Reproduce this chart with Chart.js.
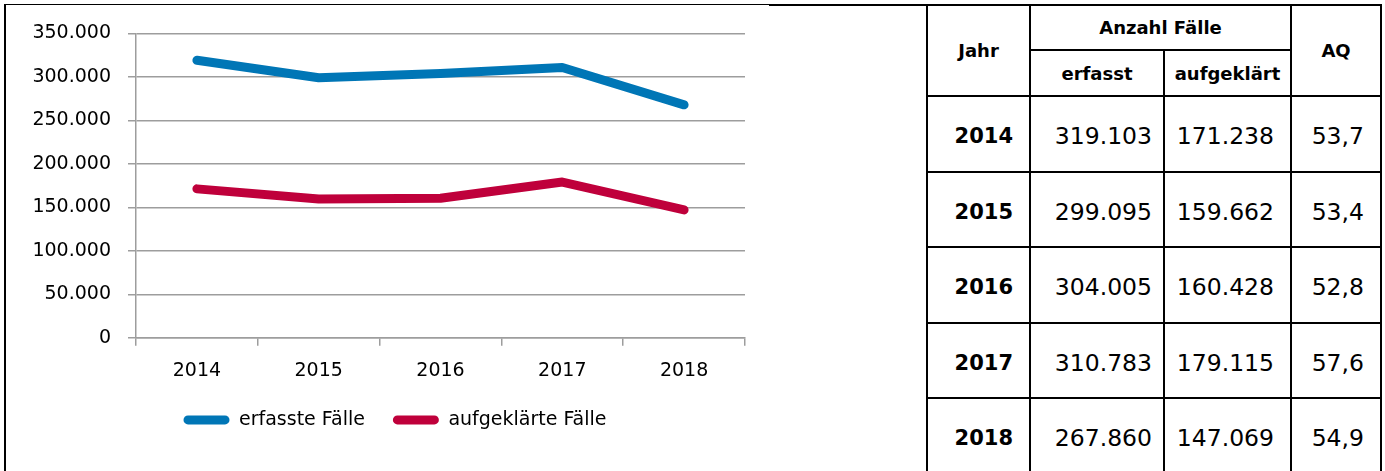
<!DOCTYPE html>
<html>
<head>
<meta charset="utf-8">
<script src="https://cdn.jsdelivr.net/npm/chart.js@4.4.1/dist/chart.umd.min.js"></script>
<style>
html,body{margin:0;padding:0;background:#fff;width:1385px;height:471px;overflow:hidden;font-family:"DejaVu Sans",sans-serif;color:#000;}
#frameTop{position:absolute;left:4px;top:4px;width:765px;height:1px;background:#000;}
#frameLeft{position:absolute;left:4px;top:4px;width:2px;height:480px;background:#000;}
#joinLine{position:absolute;left:769px;top:4px;width:160px;height:2px;background:#000;}
#wrap{position:absolute;left:6px;top:5px;width:778px;height:466px;}
#tbl{position:absolute;left:926px;top:4px;display:grid;background:#000;padding:2px 2px 0 2px;gap:2px;
  grid-template-columns:101px 132px 125px 88px;
  grid-template-rows:43px 44px 74px 73px 74px 73px 74px;}
#tbl div{background:#fff;display:flex;align-items:center;box-sizing:border-box;}
.h{font-weight:bold;font-size:18px;justify-content:center;}
.yr{font-weight:bold;font-size:21px;justify-content:flex-end;padding:4px 16px 0 0;}
.v{font-size:23.5px;justify-content:flex-end;padding:4px 14px 0 0;}
</style>
</head>
<body>
<div id="frameTop"></div>
<div id="frameLeft"></div>
<div id="joinLine"></div>
<div id="wrap"><canvas id="c" width="778" height="466"></canvas></div>
<div id="tbl"></div>
<script>
const years = ['2014', '2015', '2016', '2017', '2018'];
const erfassteFaelle = [319103, 299095, 304005, 310783, 267860];
const aufgeklaerteFaelle = [171238, 159662, 160428, 179115, 147069];
const aufklaerungsquote = [53.7, 53.4, 52.8, 57.6, 54.9];
const seriesNames = ['erfasste Fälle', 'aufgeklärte Fälle'];
const yMin = 0, yMax = 350000, yStep = 50000;

const fmt = n => String(n).replace(/\B(?=(\d{3})+(?!\d))/g, '.');

// table
const tbl = document.getElementById('tbl');
function cell(text, cls, style) {
  const d = document.createElement('div');
  d.className = cls; d.textContent = text;
  if (style) d.setAttribute('style', style);
  tbl.appendChild(d);
}
cell('Jahr', 'h', 'grid-row:1/3;grid-column:1;');
cell('Anzahl Fälle', 'h', 'grid-row:1;grid-column:2/4;');
cell('AQ', 'h', 'grid-row:1/3;grid-column:4;');
cell('erfasst', 'h', 'grid-row:2;grid-column:2;');
cell('aufgeklärt', 'h', 'grid-row:2;grid-column:3;');
years.forEach((y, i) => {
  cell(y, 'yr');
  cell(fmt(erfassteFaelle[i]), 'v', 'padding-right:11px;');
  cell(fmt(aufgeklaerteFaelle[i]), 'v', 'padding-right:16px;');
  cell(aufklaerungsquote[i].toFixed(1).replace('.', ','), 'v', 'padding-right:16px;');
});

// chart
const FONT = {family: '"DejaVu Sans", sans-serif', size: 19};
const gridColor = '#9d9d9d';
new Chart(document.getElementById('c'), {
  type: 'line',
  data: {
    labels: years,
    datasets: [
      {label: seriesNames[0], data: erfassteFaelle, borderColor: '#0076B6', backgroundColor: '#0076B6',
       borderWidth: 9, pointRadius: 0, tension: 0, borderCapStyle: 'round', borderJoinStyle: 'round', fill: false},
      {label: seriesNames[1], data: aufgeklaerteFaelle, borderColor: '#BF003B', backgroundColor: '#BF003B',
       borderWidth: 9, pointRadius: 0, tension: 0, borderCapStyle: 'round', borderJoinStyle: 'round', fill: false}
    ]
  },
  options: {
    responsive: false,
    animation: false,
    events: [],
    layout: {padding: {left: 0, right: 0, top: 22, bottom: 31.6}},
    plugins: {
      tooltip: {enabled: false},
      legend: {
        position: 'bottom',
        labels: {
          font: FONT, color: '#000', boxWidth: 46, boxHeight: 9, padding: 28,
          useBorderRadius: true, borderRadius: 4.5,
          generateLabels(chart) {
            const items = Chart.defaults.plugins.legend.labels.generateLabels(chart);
            items.forEach(it => { it.lineWidth = 0; it.fillStyle = it.strokeStyle; });
            return items;
          }
        }
      }
    },
    scales: {
      x: {
        offset: true,
        grid: {offset: true, drawOnChartArea: false, drawTicks: true, tickLength: 8, color: gridColor, lineWidth: 1.5},
        border: {display: true, color: gridColor, width: 1.5},
        ticks: {font: FONT, color: '#000', padding: 13.6, maxRotation: 0},
        afterFit(s) { s.height = 44.6; }
      },
      y: {
        min: yMin, max: yMax,
        grid: {color: gridColor, lineWidth: 1.5, tickLength: 8, drawTicks: true},
        border: {display: true, color: gridColor, width: 1.5},
        ticks: {stepSize: yStep, font: FONT, color: '#000', padding: 17, callback: v => fmt(v)},
        afterFit(s) { s.width = 130; }
      },
      y2: {
        position: 'right', display: true,
        grid: {display: false}, border: {display: false},
        ticks: {display: false},
        afterFit(s) { s.width = 39; }
      }
    }
  }
});
</script>
</body>
</html>
